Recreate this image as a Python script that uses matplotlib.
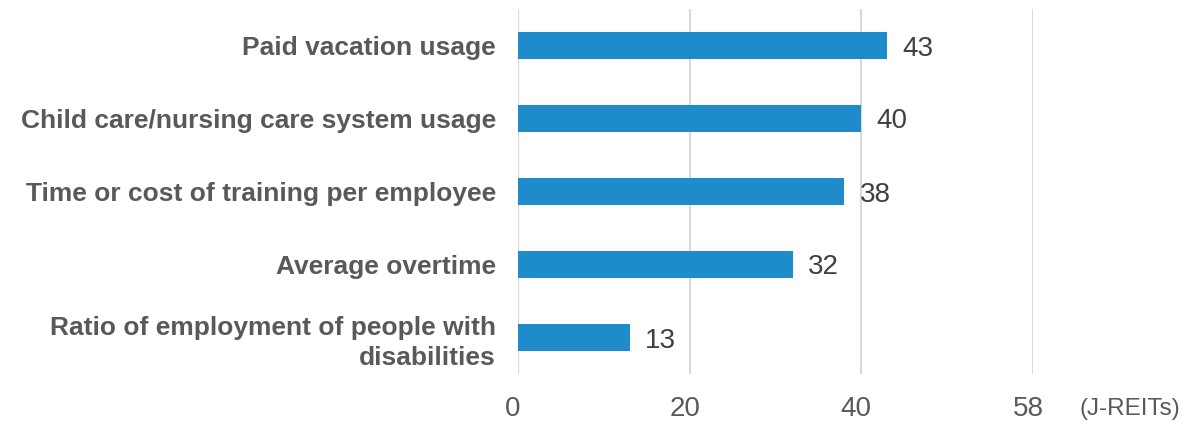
import matplotlib
matplotlib.use("Agg")
import matplotlib.pyplot as plt
from matplotlib.transforms import ScaledTranslation

categories = [
    "Paid vacation usage",
    "Child care/nursing care system usage",
    "Time or cost of training per employee",
    "Average overtime",
    "Ratio of employment of people with\ndisabilities",
]
values = [43, 40, 38, 32, 13]
tick_positions = [0, 20, 40, 60]
tick_labels = ["0", "20", "40", "58"]
unit_label = "(J-REITs)"

plt.rcParams["font.family"] = ["Liberation Sans", "DejaVu Sans"]

fig = plt.figure(figsize=(11.94, 4.24), dpi=100)
ax = fig.add_axes([518 / 1194, 1 - 374 / 424, (1033 - 518) / 1194, (374 - 9) / 424])

ypos = list(range(len(categories)))
ax.barh(ypos, values, height=0.36, color="#1E8BCA", zorder=3)

for y, v in zip(ypos, values):
    ax.annotate(str(v), (v, y), xytext=(11, 0), textcoords="offset points",
                ha="left", va="center_baseline", fontsize=20, color="#404040")

ax.set_xlim(0, 60)
ax.set_ylim(len(categories) - 0.5, -0.5)
ax.set_xticks(tick_positions)
ax.set_xticklabels(tick_labels)
ax.set_yticks(ypos)
ax.set_yticklabels(categories, fontsize=19, fontweight="bold", color="#595959",
                   ha="right", linespacing=1.3)

ax.tick_params(axis="x", length=0, pad=16, labelsize=20, labelcolor="#595959")
ax.tick_params(axis="y", length=0, pad=16)
shift = ScaledTranslation(-5 / 100, 0, fig.dpi_scale_trans)
for lbl in ax.get_xticklabels():
    lbl.set_transform(lbl.get_transform() + shift)

ax.grid(axis="x", color="#D9D9D9", linewidth=1.5, zorder=0)
for s in ax.spines.values():
    s.set_visible(False)

fig.text(1180 / 1194, 1 - 409 / 424, unit_label, ha="right", va="center",
         fontsize=17.5, color="#595959")

fig.savefig("out.png", dpi=100)
